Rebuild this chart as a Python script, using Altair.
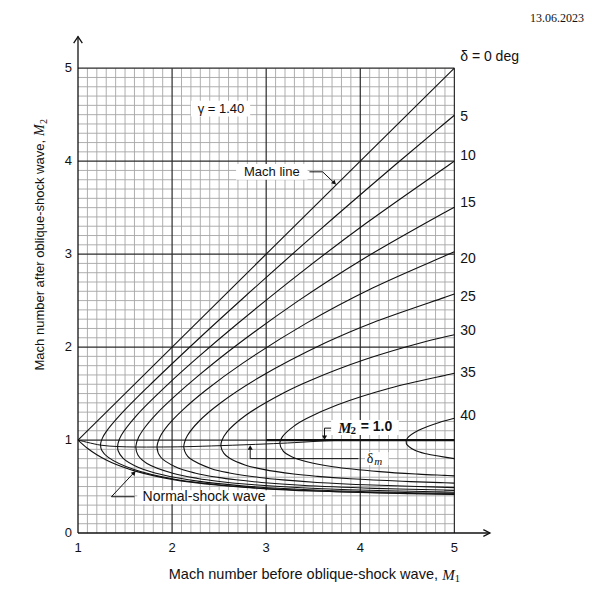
import altair as alt
import pandas as pd

# oblique shock chart, gamma = 1.40
# each deflection curve runs from the strong branch at M1 = 5, round the nose,
# and back out along the weak branch
d0_m1 = [1.0, 5.0]
d0_m2 = [1.0, 5.0]

d5_m1 = [5.0, 3.634, 2.662, 2.013, 1.596, 1.322, 1.252, 1.240, 1.258, 1.300, 1.453, 1.738, 2.280, 2.757, 3.537, 4.295, 4.823, 5.0]
d5_m2 = [0.418, 0.449, 0.503, 0.581, 0.682, 0.813, 0.890, 0.954, 1.018, 1.090, 1.275, 1.567, 2.087, 2.528, 3.231, 3.894, 4.344, 4.494]

d10_m1 = [5.0, 3.722, 3.082, 2.713, 2.292, 1.898, 1.644, 1.480, 1.4265, 1.4216, 1.4255, 1.460, 1.626, 1.967, 2.252, 2.681, 3.382, 4.065, 4.945, 5.0]
d10_m2 = [0.427, 0.455, 0.484, 0.510, 0.555, 0.626, 0.705, 0.803, 0.885, 0.926, 0.965, 1.051, 1.268, 1.610, 1.870, 2.240, 2.812, 3.334, 3.961, 4.0]

d15_m1 = [5.0, 4.796, 3.884, 3.375, 2.804, 2.483, 2.273, 2.016, 1.733, 1.635, 1.615, 1.645, 1.718, 1.837, 2.015, 2.277, 2.678, 3.348, 4.018, 4.916, 5.0]
d15_m2 = [0.438, 0.443, 0.465, 0.486, 0.524, 0.557, 0.587, 0.640, 0.748, 0.841, 0.933, 1.032, 1.146, 1.285, 1.459, 1.690, 2.014, 2.502, 2.940, 3.459, 3.505]

d20_m1 = [5.0, 4.887, 4.154, 3.374, 2.950, 2.679, 2.489, 2.241, 2.034, 1.880, 1.840, 1.870, 1.959, 2.114, 2.358, 2.748, 3.424, 4.136, 4.902, 5.0]
d20_m2 = [0.459, 0.462, 0.480, 0.513, 0.544, 0.572, 0.598, 0.646, 0.713, 0.815, 0.918, 1.031, 1.163, 1.325, 1.536, 1.825, 2.255, 2.637, 2.982, 3.026]

d25_m1 = [5.0, 4.604, 4.133, 3.540, 3.177, 2.928, 2.610, 2.419, 2.187, 2.148, 2.125, 2.130, 2.163, 2.286, 2.514, 2.906, 3.635, 4.131, 4.890, 5.0]
d25_m2 = [0.488, 0.501, 0.516, 0.544, 0.571, 0.597, 0.646, 0.692, 0.804, 0.849, 0.919, 0.968, 1.048, 1.202, 1.398, 1.661, 2.048, 2.262, 2.532, 2.571]

d30_m1 = [5.0, 4.855, 4.446, 3.897, 3.543, 3.294, 2.970, 2.774, 2.608, 2.551, 2.519, 2.528, 2.582, 2.787, 3.199, 3.462, 4.057, 4.706, 5.0]
d30_m2 = [0.537, 0.542, 0.556, 0.583, 0.609, 0.634, 0.684, 0.732, 0.806, 0.856, 0.935, 0.992, 1.085, 1.269, 1.514, 1.638, 1.868, 2.062, 2.133]

d35_m1 = [5.0, 4.896, 4.615, 4.205, 3.710, 3.433, 3.271, 3.183, 3.145, 3.173, 3.292, 3.429, 3.753, 4.311, 4.941, 5.0]
d35_m2 = [0.615, 0.620, 0.633, 0.660, 0.713, 0.766, 0.821, 0.878, 0.969, 1.036, 1.147, 1.231, 1.377, 1.557, 1.705, 1.719]

d40_m1 = [5.0, 4.70, 4.58, 4.49, 4.50, 4.62, 4.86, 5.0]
d40_m2 = [0.80, 0.852, 0.89, 0.96, 1.02, 1.105, 1.196, 1.235]

normal_m1 = [1.0, 1.1, 1.2, 1.3, 1.4, 1.5, 1.6, 1.8, 2.0, 2.2, 2.5, 3.0, 3.5, 4.0, 4.5, 5.0]
normal_m2 = [1.0, 0.912, 0.842, 0.786, 0.740, 0.701, 0.668, 0.617, 0.577, 0.547, 0.513, 0.475, 0.451, 0.435, 0.424, 0.415]

# locus of maximum deflection (delta_m) and the sonic line M2 = 1
dm_m1 = [1.0, 1.24, 1.42, 1.62, 1.84, 2.13, 2.52, 3.0, 3.3, 3.6, 3.9]
dm_m2 = [1.0, 0.945, 0.93, 0.925, 0.925, 0.928, 0.94, 0.958, 0.972, 0.99, 1.0]
sonic_m1 = [3.0, 5.0]
sonic_m2 = [1.0, 1.0]

delta_labels = ["δ = 0 deg", "5", "10", "15", "20", "25", "30", "35", "40"]
delta_label_m2 = [5.12, 4.48, 4.06, 3.55, 2.95, 2.54, 2.17, 1.72, 1.26]

x_ticks = [1, 2, 3, 4, 5]
y_ticks = [0, 1, 2, 3, 4, 5]

xs = alt.Scale(domain=[1, 5.4], nice=False, zero=False)
ys = alt.Scale(domain=[0, 5.4], nice=False, zero=False)
INK = "#111111"


def lines(rows, interp="linear", **style):
    df = pd.DataFrame(rows, columns=["name", "i", "x", "y"])
    return alt.Chart(df).mark_line(interpolate=interp, **style).encode(
        x=alt.X("x:Q", scale=xs, axis=None),
        y=alt.Y("y:Q", scale=ys, axis=None),
        detail="name:N",
        order="i:Q",
    )


def polyline(name, m1, m2):
    return [(name, i, a, b) for i, (a, b) in enumerate(zip(m1, m2))]


def rules(df, **style):
    return alt.Chart(df).mark_rule(**style).encode(
        x=alt.X("x:Q", scale=xs, axis=None),
        x2="x2:Q",
        y=alt.Y("y:Q", scale=ys, axis=None),
        y2="y2:Q",
    )


def text(xv, yv, tv, **style):
    df = pd.DataFrame({"x": xv, "y": yv, "t": tv})
    return alt.Chart(df).mark_text(**style).encode(
        x=alt.X("x:Q", scale=xs, axis=None),
        y=alt.Y("y:Q", scale=ys, axis=None),
        text="t:N",
    )


def box(x1, x2, y1, y2):
    df = pd.DataFrame({"x": [x1], "x2": [x2], "y": [y1], "y2": [y2]})
    return alt.Chart(df).mark_rect(color="white").encode(
        x=alt.X("x:Q", scale=xs, axis=None), x2="x2:Q",
        y=alt.Y("y:Q", scale=ys, axis=None), y2="y2:Q",
    )


# grid paper
minor_x = [round(1 + 0.1 * k, 1) for k in range(1, 40) if k % 10]
minor_y = [round(0.1 * k, 1) for k in range(1, 50) if k % 10]
grid_minor = pd.concat([
    pd.DataFrame({"x": minor_x, "x2": minor_x, "y": 0.0, "y2": 5.0}),
    pd.DataFrame({"x": 1.0, "x2": 5.0, "y": minor_y, "y2": minor_y}),
])
grid_major = pd.concat([
    pd.DataFrame({"x": [2, 3, 4, 5], "x2": [2, 3, 4, 5], "y": 0.0, "y2": 5.0}),
    pd.DataFrame({"x": 1.0, "x2": 5.0, "y": [1, 2, 3, 4, 5], "y2": [1, 2, 3, 4, 5]}),
])
minor = rules(grid_minor, color="#a6a6a6", strokeWidth=0.9)
major = rules(grid_major, color="#2a2a2a", strokeWidth=1.2)

boxes = [
    box(2.20, 2.83, 4.48, 4.65),   # gamma
    box(2.68, 3.44, 3.80, 3.97),   # Mach line
    box(1.63, 3.06, 0.31, 0.46),   # Normal-shock wave
    box(3.69, 4.41, 1.055, 1.215), # M2 = 1.0
    box(4.05, 4.30, 0.73, 0.87),   # delta_m
]

rows = []
for name, a, b in [("0", d0_m1, d0_m2), ("5", d5_m1, d5_m2), ("10", d10_m1, d10_m2),
                   ("15", d15_m1, d15_m2), ("20", d20_m1, d20_m2), ("25", d25_m1, d25_m2),
                   ("30", d30_m1, d30_m2), ("35", d35_m1, d35_m2), ("40", d40_m1, d40_m2),
                   ("normal", normal_m1, normal_m2)]:
    rows += polyline(name, a, b)
curves = lines(rows, interp="catmull-rom", color=INK, strokeWidth=1.1)
locus = lines(polyline("dm", dm_m1, dm_m2), interp="catmull-rom", color=INK, strokeWidth=1.0)
sonic = lines(polyline("sonic", sonic_m1, sonic_m2), color=INK, strokeWidth=2.2)

# axes with open arrowheads
axes = lines(
    polyline("xa", [1, 5.375], [0, 0]) + polyline("ya", [1, 1], [0, 5.34])
    + polyline("xh", [5.308, 5.378, 5.308], [0.036, 0.0, -0.036])
    + polyline("yh", [0.954, 1.0, 1.046], [5.27, 5.34, 5.27]),
    color=INK, strokeWidth=1.3,
)

# leader lines for the annotations
leaders = lines(
    polyline("mach", [3.46, 3.60, 3.735], [3.885, 3.885, 3.755])
    + polyline("normal", [1.60, 1.355, 1.605], [0.39, 0.39, 0.66])
    + polyline("sonic", [3.69, 3.62, 3.62], [1.128, 1.128, 1.03])
    + polyline("dm", [3.98, 2.83, 2.83], [0.80, 0.80, 0.92]),
    color=INK, strokeWidth=1.0,
)
heads_df = pd.DataFrame({"x": [3.725, 1.596, 3.62, 2.83], "y": [3.765, 0.648, 1.025, 0.92],
                         "a": [134, 43, 180, 0]})
heads = alt.Chart(heads_df).mark_point(shape="triangle-up", filled=True, size=26,
                                       color=INK, opacity=1).encode(
    x=alt.X("x:Q", scale=xs, axis=None),
    y=alt.Y("y:Q", scale=ys, axis=None),
    angle=alt.Angle("a:Q", scale=None),
)

sans = dict(font="Liberation Sans", color=INK, baseline="middle")
serif = dict(font="Liberation Serif", color=INK, baseline="middle")

labels = [
    text(x_ticks, [-0.165] * 5, [str(v) for v in x_ticks], fontSize=13, align="center", **sans),
    text([0.936] * 6, y_ticks, [str(v) for v in y_ticks], fontSize=13, align="right", **sans),
    text([5.062] * 9, delta_label_m2, delta_labels, fontSize=14, align="left", **sans),
    text([2.52], [4.566], ["γ = 1.40"], fontSize=13, align="center", **sans),
    text([3.06], [3.883], ["Mach line"], fontSize=13, align="center", **sans),
    text([2.34], [0.387], ["Normal-shock wave"], fontSize=14, align="center", **sans),
    # M2 = 1.0
    text([3.765], [1.132], ["M"], fontSize=15, align="left", fontStyle="italic", fontWeight="bold", **serif),
    text([3.895], [1.095], ["2"], fontSize=11, align="left", fontWeight="bold", **serif),
    text([4.005], [1.135], ["= 1.0"], fontSize=14, align="left", fontWeight="bold", **sans),
    # delta_m
    text([4.07], [0.80], ["δ"], fontSize=14, align="left", **serif),
    text([4.148], [0.765], ["m"], fontSize=11, align="left", fontStyle="italic", **serif),
    # axis titles
    text([4.826], [-0.455], ["Mach number before oblique-shock wave,"], fontSize=14.5, align="right", **sans),
    text([4.872], [-0.455], ["M"], fontSize=15, align="left", fontStyle="italic", **serif),
    text([5.005], [-0.495], ["1"], fontSize=10.5, align="left", **serif),
    text([0.593], [4.228], ["Mach number after oblique-shock wave,"], fontSize=13, align="right", angle=270, **sans),
    text([0.593], [4.271], ["M"], fontSize=14, align="left", fontStyle="italic", angle=270, **serif),
    text([0.635], [4.40], ["2"], fontSize=10, align="left", angle=270, **serif),
    # date stamp
    text([6.378], [5.54], ["13.06.2023"], fontSize=12, align="right", **serif),
]

chart = alt.layer(minor, major, *boxes, curves, locus, sonic, axes, leaders, heads, *labels).properties(
    width=414,
    height=502,
    autosize=alt.AutoSizeParams(type="none"),
    padding={"left": 70, "top": 23, "right": 92, "bottom": 52},
).configure_view(stroke=None)

chart.save("out.html", embed_options={"renderer": "svg", "actions": False})
